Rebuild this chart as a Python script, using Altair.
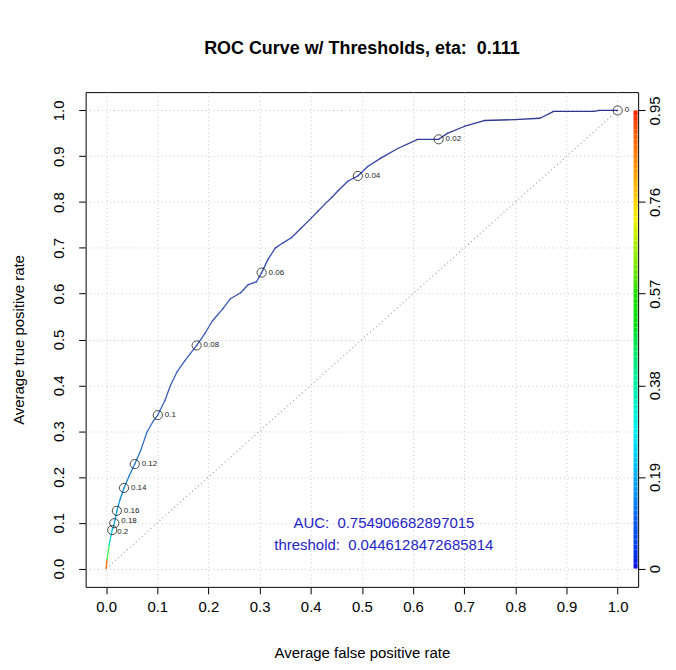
import altair as alt
import pandas as pd

# ROC curve vertices (average false/true positive rate) and threshold at each vertex
fpr = [0.0, 0.002, 0.006, 0.012, 0.016, 0.021, 0.027, 0.035, 0.045, 0.056,
       0.068, 0.080, 0.091, 0.101, 0.115, 0.126, 0.138, 0.154, 0.177, 0.193,
       0.208, 0.228, 0.243, 0.263, 0.278, 0.294, 0.304, 0.317, 0.331, 0.346,
       0.362, 0.381, 0.401, 0.414, 0.428, 0.442, 0.453, 0.473, 0.492, 0.512,
       0.537, 0.570, 0.609, 0.650, 0.667, 0.700, 0.739, 0.798, 0.848, 0.875,
       0.953, 0.965, 1.0]
tpr = [0.0, 0.020, 0.052, 0.085, 0.098, 0.126, 0.150, 0.176, 0.202, 0.228,
       0.259, 0.298, 0.320, 0.335, 0.367, 0.400, 0.428, 0.454, 0.487, 0.513,
       0.541, 0.567, 0.589, 0.602, 0.620, 0.626, 0.646, 0.676, 0.700, 0.711,
       0.722, 0.743, 0.765, 0.780, 0.796, 0.811, 0.824, 0.846, 0.857, 0.878,
       0.896, 0.917, 0.937, 0.937, 0.950, 0.965, 0.978, 0.980, 0.983, 0.998,
       0.998, 1.0, 1.0]
thr = [0.90, 0.45, 0.26, 0.20, 0.18, 0.16, 0.15, 0.14, 0.13, 0.12,
       0.113, 0.107, 0.103, 0.10, 0.095, 0.092, 0.089, 0.085, 0.08, 0.077,
       0.074, 0.071, 0.068, 0.066, 0.064, 0.062, 0.06, 0.058, 0.056, 0.054,
       0.053, 0.051, 0.049, 0.047, 0.046, 0.045, 0.044, 0.042, 0.04, 0.037,
       0.034, 0.029, 0.024, 0.02, 0.018, 0.015, 0.011, 0.008, 0.006, 0.004,
       0.002, 0.001, 0.0]

# labelled threshold markers
mark_fpr = [0.012, 0.016, 0.021, 0.035, 0.056, 0.101, 0.177, 0.304, 0.492, 0.650, 1.0]
mark_tpr = [0.084, 0.099, 0.126, 0.176, 0.228, 0.335, 0.487, 0.646, 0.857, 0.937, 1.0]
mark_lab = ["0.2", "0.18", "0.16", "0.14", "0.12", "0.1", "0.08", "0.06", "0.04", "0.02", "0"]

# colour bar (threshold scale)
cb_ticks = [0, 0.19, 0.38, 0.57, 0.76, 0.95]
cb_levels = [i * 0.01 for i in range(95)]

auc_text = "AUC: \u00a00.754906682897015"
thr_text = "threshold: \u00a00.0446128472685814"

x_ticks = [i / 10 for i in range(11)]
y_ticks = [i / 10 for i in range(11)]

FONT = "Liberation Sans"
AX = dict(labelFont=FONT, labelFontSize=15, labelColor="black",
          titleFont=FONT, titleFontSize=15, titleFontWeight="normal", titleColor="black",
          domain=False, tickSize=7, tickColor="black", tickWidth=1,
          labelFlush=False, labelOverlap=False, labelBound=False)

seg = pd.DataFrame({
    "x": fpr[:-1], "x2": fpr[1:], "y": tpr[:-1], "y2": tpr[1:], "t": thr[:-1]
})
marks = pd.DataFrame({"x": mark_fpr, "y": mark_tpr, "lab": mark_lab})
cb = pd.DataFrame({"lv": cb_levels, "lv2": [v + 0.01 for v in cb_levels],
                   "x": [1.031] * len(cb_levels), "x2": [1.039] * len(cb_levels)})
diag = pd.DataFrame({"x": [0.0, 1.0], "y": [0.0, 1.0]})
txt = pd.DataFrame({"x": [0.543, 0.543], "y": [0.100, 0.052], "s": [auc_text, thr_text]})

xs = alt.Scale(domain=[-0.04, 1.04], nice=False, zero=False)
ys = alt.Scale(domain=[-0.04, 1.04], nice=False, zero=False)
ys_r = alt.Scale(domain=[-0.04 * 0.95, 1.04 * 0.95], nice=False, zero=False)

x_enc = alt.X("x:Q", scale=xs, axis=alt.Axis(
    values=x_ticks, format=".1f", title="Average false positive rate",
    grid=True, gridDash=[1, 3], gridColor="#c8c8c8",
    labelPadding=6, titlePadding=31, **AX))
y_enc = alt.Y("y:Q", scale=ys, axis=alt.Axis(
    values=y_ticks, format=".1f", title="Average true positive rate",
    grid=True, gridDash=[1, 3], gridColor="#c8c8c8",
    labelAngle=270, labelAlign="center", labelBaseline="bottom",
    labelPadding=12, titlePadding=25, **AX))

line_color = alt.Scale(
    domain=[0, 0.04, 0.1, 0.19, 0.38, 0.57, 0.76, 0.95],
    range=["#2d3591", "#3344a8", "#3a62c0", "#22aadd", "#00ff66", "#66ff00", "#ffcc00", "#ff2200"])
bar_color = alt.Scale(
    domain=[0, 0.1, 0.19, 0.28, 0.38, 0.5, 0.57, 0.66, 0.72, 0.76, 0.85, 0.95],
    range=["#1010e0", "#1060f0", "#10b0f0", "#00f0f0", "#00f0a0", "#00e010", "#20e000",
           "#a0f000", "#f0f000", "#ffd000", "#ff8000", "#ff0000"])

diag_l = alt.Chart(diag).mark_line(color="#a0a0a0", strokeDash=[1, 3], strokeWidth=1.2).encode(
    x=x_enc, y=y_enc)
curve = alt.Chart(seg).mark_rule(strokeWidth=1.3, strokeCap="round").encode(
    x=alt.X("x:Q", scale=xs), x2="x2:Q", y=alt.Y("y:Q", scale=ys), y2="y2:Q",
    color=alt.Color("t:Q", scale=line_color, legend=None))
pts = alt.Chart(marks).mark_point(shape="circle", filled=False, color="black",
                                  size=85, strokeWidth=1).encode(
    x=alt.X("x:Q", scale=xs), y=alt.Y("y:Q", scale=ys))

def lab_layer(cond, dx, dy):
    return alt.Chart(marks).transform_filter(cond).mark_text(
        align="left", baseline="middle", dx=dx, dy=dy, fontSize=8,
        font=FONT, color="#222222").encode(
        x=alt.X("x:Q", scale=xs), y=alt.Y("y:Q", scale=ys), text="lab:N")

labs_main = lab_layer("datum.lab != '0.2' && datum.lab != '0.18'", 7, 0)
labs_18 = lab_layer("datum.lab == '0.18'", 7, -2)
labs_2 = lab_layer("datum.lab == '0.2'", 5, 2)

auc = alt.Chart(txt).mark_text(align="center", baseline="middle", fontSize=15,
                               font=FONT, color="#2424c8").encode(
    x=alt.X("x:Q", scale=xs), y=alt.Y("y:Q", scale=ys), text="s:N")

main = alt.layer(diag_l, curve, pts, labs_main, labs_18, labs_2, auc)

bar = alt.Chart(cb).mark_rect().encode(
    x=alt.X("x:Q", scale=xs), x2="x2:Q",
    y=alt.Y("lv:Q", scale=ys_r, axis=alt.Axis(
        orient="right", values=cb_ticks, title=None, grid=False,
        labelExpr="datum.value == 0 ? '0' : format(datum.value, '.2f')",
        labelAngle=270, labelAlign="center", labelBaseline="top", labelPadding=2, **AX)),
    y2="lv2:Q",
    color=alt.Color("lv:Q", scale=bar_color, legend=None))

chart = alt.layer(main, bar).resolve_scale(y="independent", color="independent").properties(
    width=555, height=497, background="white",
    title=alt.TitleParams("ROC Curve w/ Thresholds, eta: \u00a00.111", fontSize=18,
                          font=FONT, fontWeight="bold", anchor="middle",
                          baseline="bottom", offset=16, color="black"),
    autosize=alt.AutoSizeParams(type="none"),
    padding={"left": 78, "top": 83, "right": 30, "bottom": 80},
).configure_view(stroke="black", strokeWidth=1)

chart.save("out.html", embed_options={"renderer": "svg", "actions": False})
